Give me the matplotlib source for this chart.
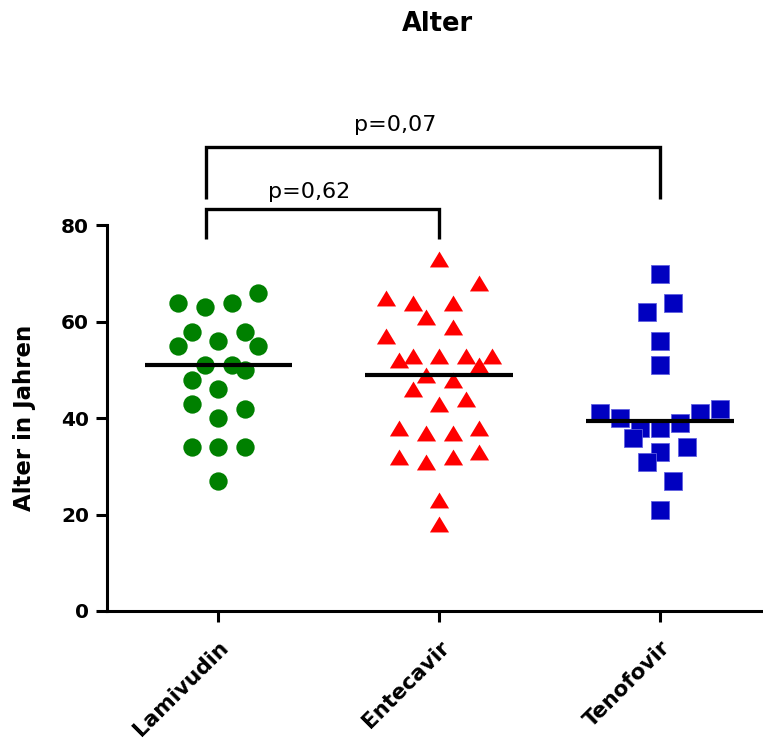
import matplotlib
matplotlib.use("Agg")
import matplotlib.pyplot as plt
import matplotlib.transforms as mtransforms
import numpy as np
from matplotlib.path import Path

# ---- data ----
categories = ["Lamivudin", "Entecavir", "Tenofovir"]

lamivudin = [64, 63, 64, 66, 58, 58, 55, 56, 55, 51, 51, 50, 48, 46, 43, 42, 40, 34, 34, 34, 27]
lamivudin_jitter = [-3, -1, 1, 3, -2, 2, -3, 0, 3, -1, 1, 2, -2, 0, -2, 2, 0, -2, 0, 2, 0]

entecavir = [73, 68, 65, 64, 64, 61, 59, 57, 52, 53, 53, 53, 53, 51, 49, 48, 46, 44, 43,
             38, 38, 37, 37, 32, 33, 31, 32, 23, 18]
entecavir_jitter = [0, 3, -4, -2, 1, -1, 1, -4, -3, -2, 0, 2, 4, 3, -1, 1, -2, 2, 0,
                    -3, 3, -1, 1, -3, 3, -1, 1, 0, 0]

tenofovir = [70, 64, 62, 56, 51, 41, 42, 41, 40, 39, 38, 38, 36, 34, 33, 31, 27, 21]
tenofovir_jitter = [0, 1, -1, 0, 0, -4.5, 4.5, 3, -3, 1.5, -1.5, 0, -2, 2, 0, -1, 1, 0]

comparisons = [("Lamivudin", "Entecavir", "p=0,62"), ("Lamivudin", "Tenofovir", "p=0,07")]

yticks = [0, 20, 40, 60, 80]
title = "Alter"
ylabel = "Alter in Jahren"

# ---- style ----
groups = [lamivudin, entecavir, tenofovir]
jitters = [lamivudin_jitter, entecavir_jitter, tenofovir_jitter]
colors = ["#008000", "#FF0000", "#0000C0"]
tri = Path([(0, 0.83), (-1, -0.83), (1, -0.83), (0, 0.83)],
           [Path.MOVETO, Path.LINETO, Path.LINETO, Path.CLOSEPOLY])
markers = ["o", tri, "s"]
msizes = [13.2, 13.8, 13.2]
step = 0.0603

fig = plt.figure(figsize=(7.63, 7.44), dpi=100)
ax = fig.add_axes([107 / 763, (744 - 611) / 744, (763 - 107) / 763, (611 - 225.5) / 744])

for i, (vals, jit) in enumerate(zip(groups, jitters)):
    x = i + np.array(jit) * step
    ax.plot(x, vals, linestyle="none", marker=markers[i], markersize=msizes[i],
            color=colors[i], markeredgewidth=0.6 if i == 2 else 0,
            markeredgecolor="#6060E0" if i == 2 else colors[i], zorder=3, clip_on=False)
    med = np.median(vals)
    ax.plot([i - 0.334, i + 0.334], [med, med], color="black", lw=3.0, zorder=4,
            solid_capstyle="butt")

# significance brackets
bracket_levels = [(83.4, 77.3, 87.0, 0.41), (96.3, 85.4, 100.8, 0.80)]
for (a, b, label), (top, bot, ty, tx) in zip(comparisons, bracket_levels):
    xa = categories.index(a) - 0.057
    xb = categories.index(b)
    ax.plot([xa, xa, xb, xb], [bot, top, top, bot], color="black", lw=2.4,
            clip_on=False, solid_joinstyle="miter", solid_capstyle="butt")
    ax.text(tx, ty, label, ha="center", va="center", fontsize=16, clip_on=False)

ax.set_xlim(-0.504, 2.466)
ax.set_ylim(0, 80)
ax.set_yticks(yticks)
ax.set_xticks(range(len(categories)))
ax.set_xticklabels(categories, rotation=45, ha="right", rotation_mode="anchor",
                   fontsize=15.5, fontweight="bold")
shift = mtransforms.ScaledTranslation(5 / 100, 0, fig.dpi_scale_trans)
for lab in ax.get_xticklabels():
    lab.set_transform(lab.get_transform() + shift)
for lab in ax.get_yticklabels():
    lab.set_fontsize(14.5)
    lab.set_fontweight("bold")

for s in ["top", "right"]:
    ax.spines[s].set_visible(False)
for s in ["left", "bottom"]:
    ax.spines[s].set_linewidth(2.2)
ax.tick_params(axis="both", length=8, width=2.2, direction="out")
ax.tick_params(axis="y", pad=5)
ax.tick_params(axis="x", pad=11)

ax.set_ylabel(ylabel, fontsize=16.5, fontweight="bold")
ax.yaxis.set_label_coords(-0.108, 0.5)
fig.text(437 / 763, 1 - 24 / 744, title, ha="center", va="center",
         fontsize=18.5, fontweight="bold")

fig.savefig("out.png", dpi=100)
